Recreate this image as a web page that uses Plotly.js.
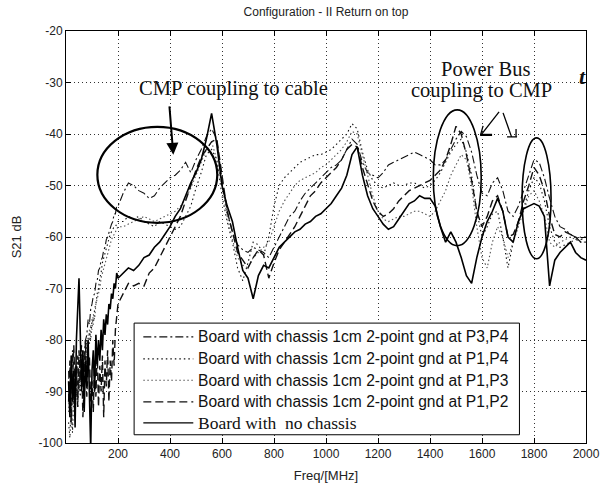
<!DOCTYPE html>
<html>
<head>
<meta charset="utf-8">
<script src="https://cdn.plot.ly/plotly-3.0.1.min.js"></script>
<style>html,body{margin:0;padding:0;background:#fff;}#chart{width:604px;height:490px;}</style>
</head>
<body>
<div id="chart"></div>
<script>
// ---------- DATA ----------
const freqMHz = [10,15,20,25,30,35,40,45,50,55,60,65,70,75,80,85,90,95,100,105,110,115,120,125,130,135,140,145,150,155,160,165,170,175,180,185,190,195,200,
220,240,260,280,300,320,340,360,380,400,420,440,460,480,500,520,540,560,580,600,620,640,660,680,700,720,740,760,780,800,820,840,860,880,900,920,940,960,980,1000,
1020,1040,1060,1080,1100,1120,1140,1160,1180,1200,1220,1240,1260,1280,1300,1320,1340,1360,1380,1400,1420,1440,1460,1480,1500,1520,1540,1560,1580,1600,
1620,1640,1660,1680,1700,1720,1740,1760,1780,1800,1820,1840,1860,1880,1900,1920,1940,1960,1980,2000];

// Board with chassis 1cm 2-point gnd at P3,P4 (dash-dot)
const s21_P3P4 = [-86,-93,-89,-82,-91,-85,-88,-83,-90,-86,-81,-88,-84,-80,
-79,-76,-77,-74,-73,-71.5,-71,-69,-68.5,-66.5,-66,-64.5,-64,-62.5,-62,-60.5,-60,-59,-58.5,-57.5,-57,-55.5,-55.5,-54,-54,
-51.5,-49.5,-50,-51,-51.5,-52.5,-52,-50.5,-49.5,-48.5,
-48,-47,-45.5,-47.5,-45,-43,-40.5,-39,-41,-49,
-55,-59,-61.5,-62.5,-63,-62,-62.5,-63,-64,-62,
-60,-58,-56,-55,-53,-51.5,-50.5,-49.5,-48.5,-47.5,
-46.5,-46,-45,-43,-41,-42,-45.5,-47.5,-48,-48.5,
-47.5,-46,-45.5,-45,-44.5,-44,-43.5,-44,-44.5,-45,
-46,-46,-45,-43,-41,-39.5,-40.5,-43.5,-48,-51.5,
-52,-49.5,-48.5,-51,-55,-56,-54,-51,-48,-45,
-45.5,-48.5,-52.5,-56,-58,-58.5,-59.5,-60,-60.5,-60];

// Board with chassis 1cm 2-point gnd at P1,P4 (dotted)
const s21_P1P4 = [-96,-99,-92,-98,-90,-95,-88,-93,-86,-91,-84,-89,-82,-86,-80,-83,-78,-80,-76,-77,-74,-73,-71,-70,-68,-67,-65,-64,-63,-62,-61,-60,-59.5,-59,-58.5,-58,-58,-57.5,-57,
-57,-56,-56.5,-56,-57,-57.5,-58,-57,-57.5,-58,
-58.5,-58,-56,-54,-50.5,-47.5,-44,-43,-45,-52,
-57,-61,-66,-68.5,-65,-61,-61.5,-63.5,-60,-54,
-50,-48.5,-47.5,-46.5,-45.5,-45,-44.5,-44,-44,-43.5,
-43,-42,-41,-40,-38,-39,-43.5,-47,-49,-50,
-50.5,-50,-49.5,-50,-50,-49.5,-49.5,-50,-50.5,-50,
-49,-47.5,-45.5,-43.5,-42,-41,-43.5,-48,-55,-60,
-58,-55.5,-55,-60,-66,-61,-57,-54.5,-51,-48.5,
-49.5,-53,-58,-61,-62,-61.5,-61,-60.5,-60,-60];

// Board with chassis 1cm 2-point gnd at P1,P3 (dotted, lighter)
const s21_P1P3 = [-94,-88,-97,-90,-93,-87,-91,-85,-89,-84,-87,-82,-85,-80,-83,-79,-81,-77,-78,-75,-76,-73,-72,-71,-70,-68,-67,-66,-65,-64,-63,-62,-61,-60.5,-60,-59.5,-59,-58.5,-58,
-58,-57.5,-57,-56.5,-56,-56.5,-57,-56.5,-56,-55.5,
-55,-54,-52.5,-50.5,-48,-45.5,-43,-41.5,-45,-50,
-56,-60.5,-64,-65.5,-66,-64,-63,-62,-61,-58,
-55,-53,-51.5,-50,-49,-48.5,-48,-47.5,-46.5,-46,
-45,-44,-43,-41.5,-39.5,-40,-44,-48,-52,-55,
-56.5,-57,-56.5,-56,-56,-55.5,-55,-55,-55.5,-56,
-55,-53,-51,-48,-46,-44,-45,-50,-58,-64,
-66,-61,-58,-60,-64,-61,-58,-55,-52,-51,
-53,-56,-61,-62,-61,-60.5,-60,-60.5,-61,-61];

// Board with chassis 1cm 2-point gnd at P1,P2 (dashed)
const s21_P1P2 = [-92,-84,-96,-87,-81,-90,-85,-93,-82,-88,-84,-95,-86,-80,-91,-85,-83,-92,
-88,-94,-84,-91,-82,-93,-85,-90,-83,-95,-84,-89,-82,-92,-84,-88,-80,-85,-78,-76,-73,
-71,-69,-69.5,-69,-69.5,-67,-66,-64,-62,-60,
-58,-56,-53,-50,-47,-44.5,-43,-41.5,-41,-48,
-55,-59,-63,-64.5,-66,-64,-62.5,-63.5,-68,-65,
-62.5,-61,-59.5,-58,-56,-54,-52,-51,-49.5,-48.5,
-47.5,-46.5,-45,-43,-42,-42.5,-46.5,-50,-53,-55,
-56,-55.5,-54.5,-53,-52,-51,-50.5,-50,-49.5,-49,
-48,-47,-45,-42,-38.5,-40,-44,-49,-55,-58,
-56,-53,-52,-55,-60,-59.5,-57,-53,-50,-46.5,
-48,-51,-56,-59.5,-60,-59,-59.5,-60,-61,-61];

// Board with no chassis (solid)
const s21_noChassis = [-88,-95,-83,-92,-86,-97,-80,-74,-68,-79,-90,-82,-94,-84,-89,-80,-93,-101,-86,-82,-90,-79,-85,-80,-84,-78,-82,-76,-79,-75,-77,-73,-74,-71,-72,-69,-70,-67,-68,
-67,-66,-66.5,-65.5,-64,-63.5,-62,-61,-59.5,-58,
-56,-54.5,-52,-49.5,-47.5,-45,-41,-36,-42,-50,
-54,-57,-62,-66.5,-68,-72,-67.5,-65.5,-66,-64,
-62,-61,-60,-59,-58.5,-57.5,-57,-56,-55.5,-54.5,
-53.5,-52,-50.5,-48,-44,-42.5,-48,-52,-54.5,-56,
-57.5,-58.5,-58,-56.5,-55,-53.5,-53,-52,-52.5,-52.5,
-54,-58,-61,-59,-61,-64,-67.5,-69,-64,-60,
-57,-55,-52.5,-55,-60,-61,-57,-54.5,-54,-53.5,
-54,-56,-69.5,-64.5,-63,-62,-61,-63,-64,-64.5];

const seriesNames = [
  'Board with chassis 1cm 2-point gnd at P3,P4',
  'Board with chassis 1cm 2-point gnd at P1,P4',
  'Board with chassis 1cm 2-point gnd at P1,P3',
  'Board with chassis 1cm 2-point gnd at P1,P2',
  'Board with\u00A0 no chassis'
];
const xTickVals = [200,400,600,800,1000,1200,1400,1600,1800,2000];
const xTickText = ['200','400','600','800','1000','1200','1400','1600','1800','2000'];
const yTickVals = [-100,-90,-80,-70,-60,-50,-40,-30,-20];
const yTickText = ['-100','-90','-80','-70','-60','-50','-40','-30','-20'];

// ---------- STYLE ----------
const styles = [
  {color:'#111', width:1.1, dash:'8px,3px,2px,3px'},
  {color:'#111', width:1.1, dash:'1.5px,3px'},
  {color:'#555', width:1.1, dash:'1.5px,2.5px'},
  {color:'#111', width:1.4, dash:'8px,4px'},
  {color:'#000', width:1.6, dash:'solid'}
];
const allSeries = [s21_P3P4, s21_P1P4, s21_P1P3, s21_P1P2, s21_noChassis];

const traces = allSeries.map((ys, i) => ({
  type:'scatter', mode:'lines', x:freqMHz, y:ys, name:seriesNames[i],
  line:{color:styles[i].color, width:styles[i].width, dash:styles[i].dash},
  hoverinfo:'skip'
}));

const sans = 'Liberation Sans, Arial, sans-serif';
const serif = 'Liberation Serif, Times New Roman, serif';

// pixel -> paper helpers for annotation/shape placement
const PX0 = 65.6, PW = 520.4, PY0 = 443.5, PH = 412.5;
const px = v => (v - PX0) / PW;
const py = v => (PY0 - v) / PH;

// Manual legend (paper coordinates)
const legRows = [0.2575, 0.2042, 0.1524, 0.0998, 0.0489];
const shapes = [
  {type:'rect', xref:'paper', yref:'paper', x0:0.131, x1:0.872, y0:0.020, y1:0.291,
   fillcolor:'#fff', line:{color:'#000', width:1}, layer:'above'}
];
legRows.forEach((yy, i) => {
  shapes.push({type:'line', xref:'paper', yref:'paper', x0:0.1487, x1:0.2448, y0:yy, y1:yy,
    line:{color:styles[i].color, width:Math.min(styles[i].width,1.3), dash:styles[i].dash}, layer:'above'});
});
// ellipses
shapes.push({type:'circle', xref:'paper', yref:'paper', x0:0.0603, x1:0.2909, y0:0.5345, y1:0.7673,
  line:{color:'#000', width:2.2}, layer:'above'});
shapes.push({type:'circle', xref:'paper', yref:'paper', x0:0.7063, x1:0.7985, y0:0.4788, y1:0.8085,
  line:{color:'#000', width:1.6}, layer:'above'});
shapes.push({type:'circle', xref:'paper', yref:'paper', x0:0.8770, x1:0.9328, y0:0.4473, y1:0.7406,
  line:{color:'#000', width:1.6}, layer:'above'});
// power bus arrows (lines + odd heads)
shapes.push({type:'line', xref:'paper', yref:'paper', x0:px(499), y0:py(112), x1:px(481), y1:py(135), line:{color:'#000', width:1.3}, layer:'above'});
shapes.push({type:'line', xref:'paper', yref:'paper', x0:px(480), y0:py(135), x1:px(492), y1:py(135), line:{color:'#000', width:2.2}, layer:'above'});
shapes.push({type:'line', xref:'paper', yref:'paper', x0:px(480.5), y0:py(135), x1:px(483), y1:py(126), line:{color:'#000', width:1.3}, layer:'above'});
shapes.push({type:'line', xref:'paper', yref:'paper', x0:px(503), y0:py(113), x1:px(511.5), y1:py(137), line:{color:'#000', width:1.3}, layer:'above'});
shapes.push({type:'line', xref:'paper', yref:'paper', x0:px(507), y0:py(137), x1:px(517), y1:py(137), line:{color:'#000', width:1.3}, layer:'above'});
shapes.push({type:'line', xref:'paper', yref:'paper', x0:px(516), y0:py(129), x1:px(516), y1:py(137), line:{color:'#000', width:1.3}, layer:'above'});

const annotations = [];
legRows.forEach((yy, i) => {
  annotations.push({xref:'paper', yref:'paper', x:0.2506, y:yy, xanchor:'left', yanchor:'middle',
    text:seriesNames[i], showarrow:false,
    font: i === 4 ? {family:serif, size:17.5, color:'#111'} : {family:sans, size:15.6, color:'#111'}});
});
annotations.push({xref:'paper', yref:'paper', x:px(233), y:py(88.5), xanchor:'center', yanchor:'middle',
  text:'CMP coupling to cable', showarrow:false, font:{family:serif, size:20.5, color:'#111'}});
annotations.push({xref:'paper', yref:'paper', x:px(485), y:py(69.5), xanchor:'center', yanchor:'middle',
  text:'Power Bus', showarrow:false, font:{family:serif, size:20.5, color:'#111'}});
annotations.push({xref:'paper', yref:'paper', x:px(481.5), y:py(91), xanchor:'center', yanchor:'middle',
  text:'coupling to CMP', showarrow:false, font:{family:serif, size:20.5, color:'#111'}});
annotations.push({xref:'paper', yref:'paper', x:px(582), y:py(77), xanchor:'center', yanchor:'middle',
  text:'<b><i>t</i></b>', showarrow:false, font:{family:serif, size:22, color:'#111'}});
// CMP arrow
annotations.push({xref:'paper', yref:'paper', x:px(173), y:py(155), text:'', showarrow:true,
  ax:-4, ay:-50, arrowhead:2, arrowsize:1.2, arrowwidth:2, arrowcolor:'#000', standoff:0});

const axisCommon = {
  ticks:'inside', ticklen:5, tickcolor:'#000', tickwidth:1,
  showline:true, linecolor:'#000', linewidth:1, mirror:'ticks',
  showgrid:true, gridcolor:'#333', griddash:'1px,3px', gridwidth:1,
  zeroline:false, tickfont:{family:sans, size:12, color:'#222'}
};

const layout = {
  width:604, height:490,
  margin:{l:66, r:18, t:31, b:47, pad:0},
  paper_bgcolor:'#fff', plot_bgcolor:'#fff',
  showlegend:false,
  title:{text:'Configuration - II Return on top', font:{family:sans, size:12, color:'#222'},
    x:0.5, xref:'paper', xanchor:'center', y:1 - 12/490, yref:'container', yanchor:'middle'},
  xaxis:Object.assign({}, axisCommon, {range:[0,2000], tickmode:'array', tickvals:xTickVals, ticktext:xTickText,
    title:{text:'Freq/[MHz]', font:{family:sans, size:13, color:'#222'}, standoff:10}}),
  yaxis:Object.assign({}, axisCommon, {range:[-100,-20], tickmode:'array', tickvals:yTickVals, ticktext:yTickText,
    title:{text:'S21 dB', font:{family:sans, size:13, color:'#222'}, standoff:14}}),
  shapes:shapes,
  annotations:annotations
};

Plotly.newPlot('chart', traces, layout, {displayModeBar:false, staticPlot:true});
</script>
</body>
</html>
